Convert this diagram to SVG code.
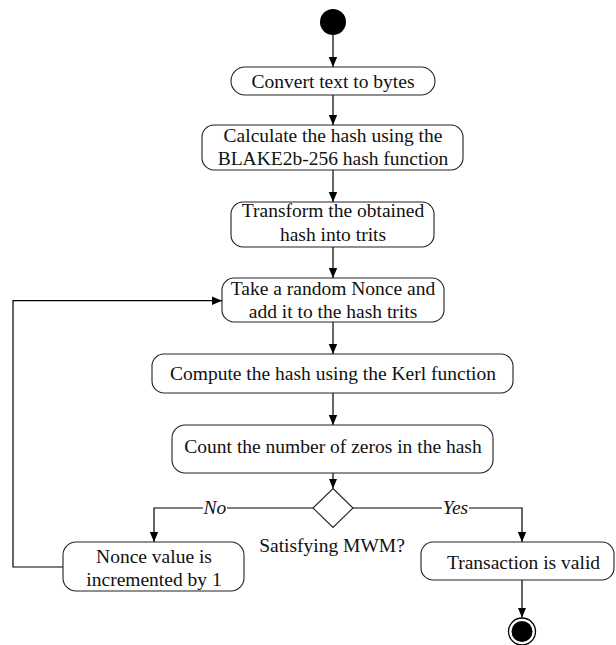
<svg xmlns="http://www.w3.org/2000/svg" width="616" height="645" viewBox="0 0 616 645">
<defs>
<marker id="arr" markerWidth="10" markerHeight="10" refX="10" refY="5" orient="auto" markerUnits="userSpaceOnUse">
<path d="M0,0.8 L10,5 L0,9.2 Z" fill="#000"/>
</marker>
<style>
.box{fill:#fff;stroke:#222;stroke-width:1.1}
.t{font-family:"Liberation Serif","Times New Roman",serif;font-size:19.5px;fill:#111;text-anchor:middle}
.lbl{font-family:"Liberation Serif","Times New Roman",serif;font-size:19.5px;font-style:italic;fill:#111;text-anchor:middle}
.c{fill:none;stroke:#000;stroke-width:1.2}
</style>
</defs>
<rect width="616" height="645" fill="#fff"/>
<g id="connectors">
<path class="c" d="M333,35 V67" marker-end="url(#arr)"/>
<path class="c" d="M333,95 V125" marker-end="url(#arr)"/>
<path class="c" d="M333,170 V202" marker-end="url(#arr)"/>
<path class="c" d="M333,247 V278" marker-end="url(#arr)"/>
<path class="c" d="M333,322 V354" marker-end="url(#arr)"/>
<path class="c" d="M333,393 V425" marker-end="url(#arr)"/>
<path class="c" d="M333,473 V488.5" marker-end="url(#arr)"/>
<path class="c" d="M313,508 H227"/>
<path class="c" d="M203,508 H154 V542" marker-end="url(#arr)"/>
<path class="c" d="M353,508 H442"/>
<path class="c" d="M469,508 H522 V542" marker-end="url(#arr)"/>
<path class="c" d="M522,580 V617.5" marker-end="url(#arr)"/>
<path class="c" d="M63,567 H13 V300.7 H222" marker-end="url(#arr)"/>
<text class="lbl" x="215" y="514">No</text>
<text class="lbl" x="455.5" y="514">Yes</text>
</g>
<g id="start"><circle cx="333" cy="22" r="13" fill="#000"/></g>
<g id="n1">
<rect class="box" x="231" y="67" width="204" height="28" rx="14"/>
<text class="t" x="333" y="87.5">Convert text to bytes</text>
</g>
<g id="n2">
<rect class="box" x="202" y="125" width="261" height="45" rx="12"/>
<text class="t" x="333" y="142">Calculate the hash using the</text>
<text class="t" x="333" y="165">BLAKE2b-256 hash function</text>
</g>
<g id="n3">
<rect class="box" x="231" y="202" width="203" height="45" rx="12"/>
<text class="t" x="333" y="217">Transform the obtained</text>
<text class="t" x="333" y="241">hash into trits</text>
</g>
<g id="n4">
<rect class="box" x="222" y="278" width="222" height="44" rx="12"/>
<text class="t" x="333" y="295">Take a random Nonce and</text>
<text class="t" x="333" y="318">add it to the hash trits</text>
</g>
<g id="n5">
<rect class="box" x="152" y="354" width="361" height="39" rx="12"/>
<text class="t" x="333" y="380">Compute the hash using the Kerl function</text>
</g>
<g id="n6">
<rect class="box" x="172" y="425" width="321" height="48" rx="13"/>
<text class="t" x="333" y="453">Count the number of zeros in the hash</text>
</g>
<g id="decision">
<path class="box" d="M333,488.5 L353,508 L333,527.5 L313,508 Z"/>
<text class="t" x="332" y="551.5">Satisfying MWM?</text>
</g>
<g id="n7">
<rect class="box" x="63" y="542" width="181" height="49" rx="13"/>
<text class="t" x="154" y="562.5">Nonce value is</text>
<text class="t" x="154" y="586">incremented by 1</text>
</g>
<g id="n8">
<rect class="box" x="421" y="542" width="193" height="38" rx="12"/>
<text class="t" x="523.5" y="569">Transaction is valid</text>
</g>
<g id="end">
<circle cx="522" cy="631.5" r="13.5" fill="#fff" stroke="#000" stroke-width="1.3"/>
<circle cx="522" cy="631.5" r="10.5" fill="#000"/>
</g>
</svg>
